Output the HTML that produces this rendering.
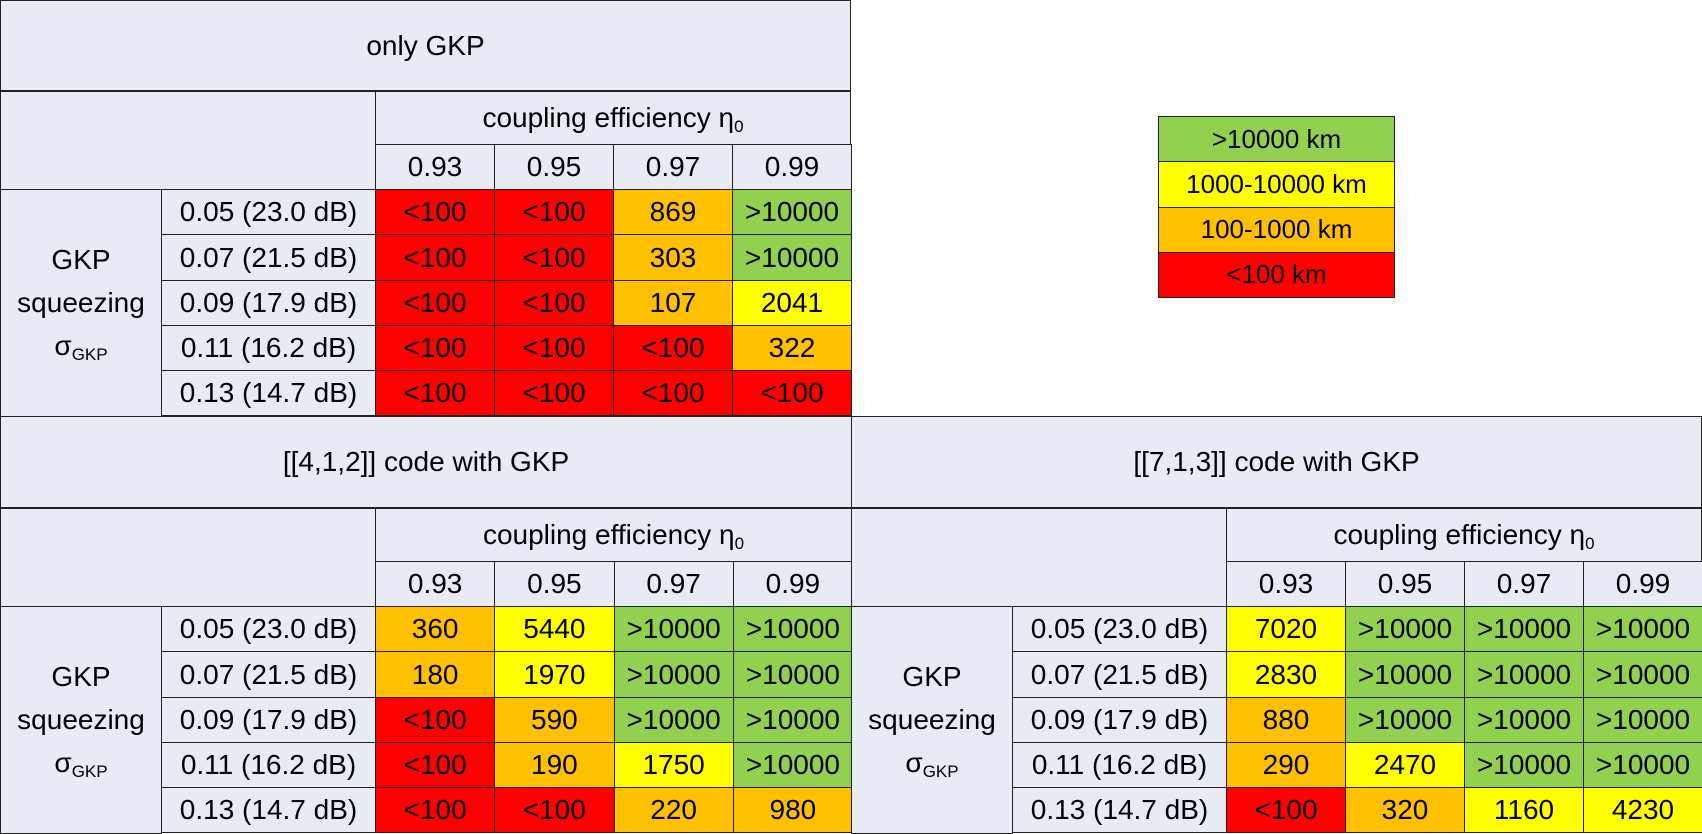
<!DOCTYPE html>
<html><head><meta charset="utf-8">
<style>
html,body{margin:0;padding:0;background:#fff;}
body{width:1702px;height:832px;position:relative;overflow:hidden;font-family:"Liberation Sans",sans-serif;color:#000;}
.c{position:absolute;box-sizing:border-box;border:1.5px solid #222;display:flex;align-items:center;justify-content:center;text-align:center;font-size:28px;line-height:1.28;background:#E8EAF4;}
.c span{display:block;}
.rh span{line-height:1.55;}
sub{font-size:17px;vertical-align:-5px;line-height:0;}
</style></head><body>
<div id="root"></div>
<script>
const cols = ["0.93","0.95","0.97","0.99"];
const rowLabels = ["0.05 (23.0 dB)","0.07 (21.5 dB)","0.09 (17.9 dB)","0.11 (16.2 dB)","0.13 (14.7 dB)"];
const onlyGkp = ["<100","<100","869",">10000","<100","<100","303",">10000","<100","<100","107","2041","<100","<100","<100","322","<100","<100","<100","<100"];
const code412 = ["360","5440",">10000",">10000","180","1970",">10000",">10000","<100","590",">10000",">10000","<100","190","1750",">10000","<100","<100","220","980"];
const code713 = ["7020",">10000",">10000",">10000","2830",">10000",">10000",">10000","880",">10000",">10000",">10000","290","2470",">10000",">10000","<100","320","1160","4230"];
const legendLabels = [">10000 km","1000-10000 km","100-1000 km","<100 km"];
const legendColors = ["#92D050","#FFFF00","#FFC000","#FF0000"];

function colorFor(v){
  if(v.startsWith(">")) return "#92D050";
  if(v.startsWith("<")) return "#FF0000";
  const n=parseFloat(v);
  if(n>=1000) return "#FFFF00";
  return "#FFC000";
}
const root=document.getElementById('root');
function cell(x,y,w,h,html,bg,name,fs){
  const d=document.createElement('div');
  d.className='c';
  d.style.left=x+'px';d.style.top=y+'px';d.style.width=w+'px';d.style.height=h+'px';
  if(bg) d.style.background=bg;
  if(fs) d.style.fontSize=fs+'px';
  d.innerHTML='<span>'+html+'</span>';
  
  
  root.appendChild(d);
  return d;
}
function table(x0,y0,h0,title,vals,prefix,wTot){
  cell(x0,y0,wTot,h0,title,null,prefix+'-title');
  const yh1=y0+h0, yh2=yh1+53, yd=yh2+45;
  const c1=161, c2=375, cw=(wTot-c2)/4;
  cell(x0,yh1,c2+1,yd-yh1+1,'',null,prefix+'-corner');
  cell(x0+c2,yh1,wTot-c2,54,'coupling efficiency &eta;<sub>0</sub>',null,prefix+'-column-header');
  cols.forEach((c,i)=>cell(x0+c2+i*cw,yh2,cw+1,46,c,null,prefix+'-col-'+c));
  const rh=45.3;
  const hdr=cell(x0,yd,c1+1,rh*5+1,'GKP<br>squeezing<br>&sigma;<sub>GKP</sub>',null,prefix+'-row-header');
  hdr.classList.add('rh');
  rowLabels.forEach((r,j)=>{
    cell(x0+c1,yd+j*rh,c2-c1+1,rh+1,r,null,prefix+'-row-'+j);
    cols.forEach((c,i)=>{
      const v=vals[j*4+i];
      cell(x0+c2+i*cw,yd+j*rh,cw+1,rh+1,v.replace('<','&lt;').replace('>','&gt;'),colorFor(v),prefix+'-value');
    });
  });
}
table(0,0,91,'only GKP',onlyGkp,'only-gkp',851);
table(0,416,92,'[[4,1,2]] code with GKP',code412,'code-412',852);
table(851,416,92,'[[7,1,3]] code with GKP',code713,'code-713',851);
legendLabels.forEach((l,i)=>{
  cell(1158,116+i*45.3,237,46.3,l,legendColors[i],'legend-entry',26);
});
</script>
</body></html>
